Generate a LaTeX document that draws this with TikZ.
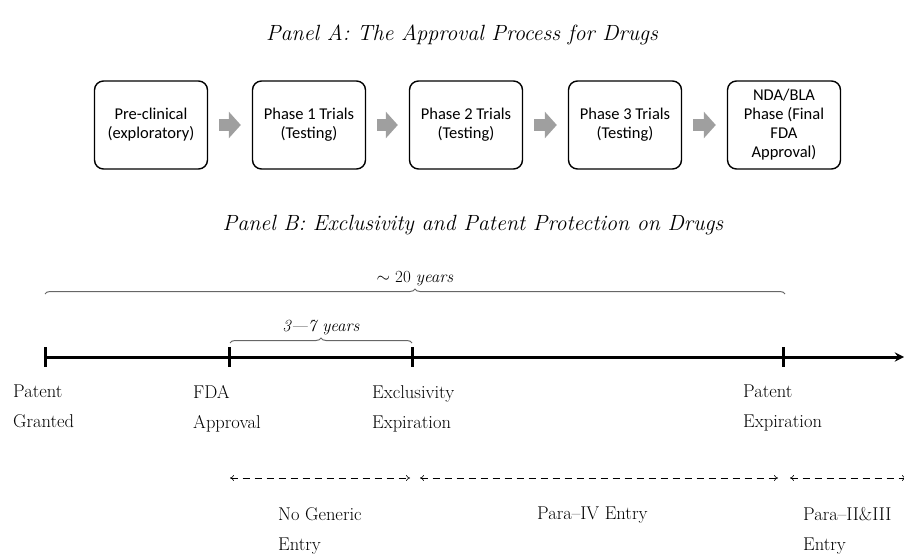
\documentclass[tikz,border=0pt]{standalone}
\usepackage{fontspec}
\newfontfamily\boxfont{Carlito}
\usetikzlibrary{arrows.meta,decorations.pathreplacing}
\begin{document}
\begin{tikzpicture}[x=1pt,y=-1pt,>=stealth,
	stage/.style={draw,line width=1.4pt,rounded corners=9pt,minimum width=113pt,minimum height=88pt,align=center,font=\boxfont\fontsize{16.5}{19}\selectfont},
	grayarrow/.style={line width=12pt,draw=gray!75,-{Triangle[length=12pt,width=26pt]},shorten <=11pt,shorten >=11pt},
	paneltitle/.style={font=\itshape\fontsize{22}{24}\selectfont},
	lab/.style={anchor=north west,inner sep=0pt,align=left,font=\fontsize{18.5}{30}\selectfont},
	tick/.style={line width=3pt},
	span/.style={dashed,dash pattern=on 7pt off 5pt,line width=0.6pt,<->,>={To[length=4pt,width=6pt]}},
	brace/.style={decorate,decoration={brace,amplitude=5pt},gray!80!black,line width=1pt}]
	\useasboundingbox (0,0) rectangle (904,554);
	\node[paneltitle] (ta) at (462,35) {Panel A: The Approval Process for Drugs};
	\node[stage] (pre) at (151,125) {Pre-clinical\\(exploratory)};
	\node[stage] (ph1) at (309,125) {Phase 1 Trials\\(Testing)};
	\node[stage] (ph2) at (466,125) {Phase 2 Trials\\(Testing)};
	\node[stage] (ph3) at (625,125) {Phase 3 Trials\\(Testing)};
	\node[stage] (nda) at (784,125) {NDA/BLA\\Phase (Final\\FDA\\Approval)};
	\draw[grayarrow] (pre) -- (ph1);
	\draw[grayarrow] (ph1) -- (ph2);
	\draw[grayarrow] (ph2) -- (ph3);
	\draw[grayarrow] (ph3) -- (nda);
	\node[paneltitle] (tb) at (473,225) {Panel B: Exclusivity and Patent Protection on Drugs};
	\coordinate (pg) at (45,357);
	\coordinate (fa) at (229,357);
	\coordinate (ee) at (412,357);
	\coordinate (pe) at (783,357);
	\coordinate (tend) at (904,357);
	\draw[line width=3pt,->] (pg) -- (tend);
	\foreach \c in {pg,fa,ee,pe}
		\draw[tick] ([yshift=10pt]\c) -- ([yshift=-10pt]\c);
	\draw[brace] (45,294) -- (785,294) node[midway,above=4pt,black] (twenty) {\fontsize{17}{19}\selectfont$\sim$ 20 \textit{years}};
	\draw[brace] (230,343) -- (412,343) node[midway,above=4pt,black] (range) {\fontsize{17}{19}\selectfont\textit{3—7 years}};
	\node[lab] (pglab) at (13,385) {Patent\\Granted};
	\node[lab] (falab) at (193,385) {FDA\\Approval};
	\node[lab] (eelab) at (372,385) {Exclusivity\\Expiration};
	\node[lab] (pelab) at (743,385) {Patent\\Expiration};
	\coordinate (d1) at (230,478);
	\coordinate (d2) at (410,478);
	\coordinate (d3) at (420,478);
	\coordinate (d4) at (778,478);
	\coordinate (d5) at (790,478);
	\coordinate (d6) at (906,478);
	\draw[span] (d1) -- (d2);
	\draw[span] (d3) -- (d4);
	\draw[span] (d5) -- (d6);
	\node[lab] (nolab) at (278,507) {No Generic\\Entry};
	\node[lab] (p4lab) at (537,507) {Para--IV Entry};
	\node[lab] (p23lab) at (803,507) {Para--II\&III\\Entry};
\end{tikzpicture}
\end{document}
